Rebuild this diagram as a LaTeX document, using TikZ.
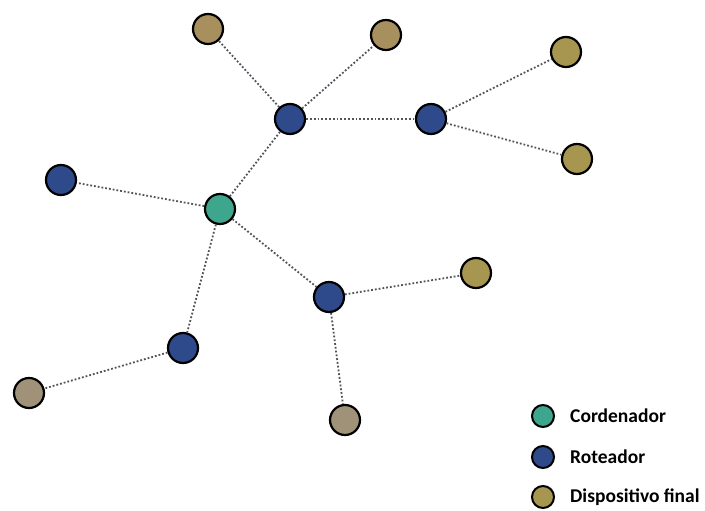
\documentclass[tikz,border=0pt]{standalone}
\usepackage{fontspec}
\setmainfont{Carlito}
\begin{document}
\begin{tikzpicture}[x=1pt,y=-1pt,
  nd/.style={circle,draw=black,line width=2.2pt,minimum size=30pt,inner sep=0pt},
  coord/.style={nd,fill=coordc},
  rout/.style={nd,fill=routc},
  dev/.style={nd,fill=devc},
  lg/.style={circle,draw=black,line width=2pt,minimum size=22pt,inner sep=0pt},
  link/.style={draw=linkc,line width=1.8pt,dotted},
  lbl/.style={anchor=west,font=\bfseries\fontsize{19.5}{22}\selectfont,inner sep=0pt}]
\definecolor{coordc}{HTML}{3FA68E}
\definecolor{routc}{HTML}{2F4A8A}
\definecolor{devc}{HTML}{A6964F}
\definecolor{devb}{HTML}{A09278}
\definecolor{devt}{HTML}{A88F5E}
\definecolor{linkc}{HTML}{50555C}
\useasboundingbox[fill=white] (0,0) rectangle (705,511);
% nodes
\node[coord] (c) at (220,209) {};
\node[rout] (r1) at (290,119) {};
\node[rout] (r2) at (431,119) {};
\node[rout] (r3) at (61,180) {};
\node[rout] (r4) at (329,297) {};
\node[rout] (r5) at (183,348) {};
\node[dev,fill=devt] (d1) at (208,29) {};
\node[dev,fill=devt] (d2) at (386,35) {};
\node[dev] (d3) at (566,52) {};
\node[dev] (d4) at (577,159) {};
\node[dev] (d5) at (476,273) {};
\node[dev,fill=devb] (d6) at (345,420) {};
\node[dev,fill=devb] (d7) at (29,393) {};
% links
\draw[link] (c) -- (r1);
\draw[link] (c) -- (r3);
\draw[link] (c) -- (r4);
\draw[link] (c) -- (r5);
\draw[link] (r1) -- (d1);
\draw[link] (r1) -- (d2);
\draw[link] (r1) -- (r2);
\draw[link] (r2) -- (d3);
\draw[link] (r2) -- (d4);
\draw[link] (r4) -- (d5);
\draw[link] (r4) -- (d6);
\draw[link] (r5) -- (d7);
% legend
\node[lg,fill=coordc] (l1) at (543,416) {};
\node[lg,fill=routc] (l2) at (543,457) {};
\node[lg,fill=devc] (l3) at (543,497) {};
\node[lbl] (t1) at (570,416) {Cordenador};
\node[lbl] (t2) at (570,457) {Roteador};
\node[lbl] (t3) at (570,497) {Dispositivo final};
\end{tikzpicture}
\end{document}
